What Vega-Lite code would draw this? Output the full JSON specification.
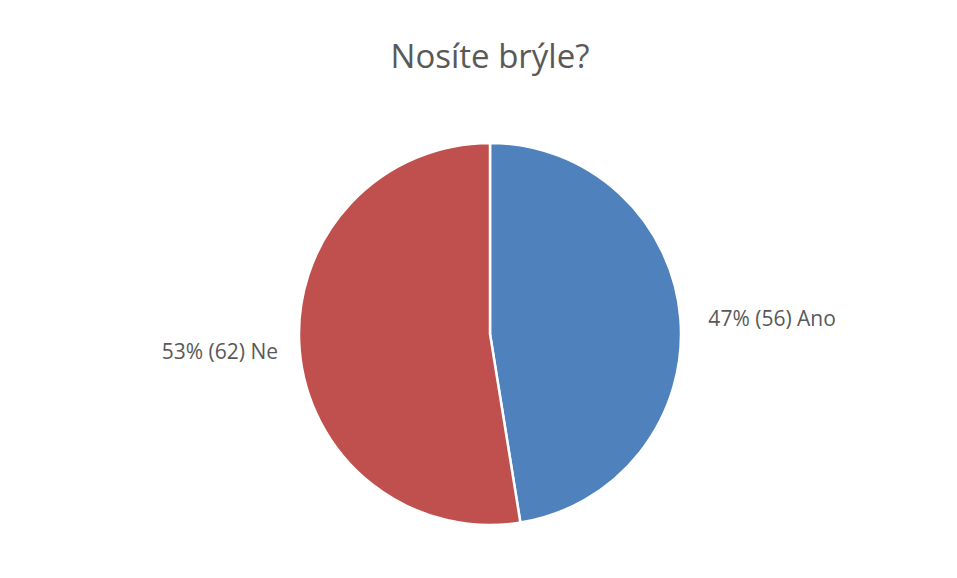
{
  "$schema": "https://vega.github.io/schema/vega-lite/v6.json",
  "autosize": "none",
  "width": 934,
  "height": 488,
  "padding": {"left": 23, "top": 90, "right": 0, "bottom": 0},
  "background": "white",
  "title": {
    "text": "Nosíte brýle?",
    "font": "Open Sans",
    "fontSize": 33,
    "fontWeight": "normal",
    "color": "#595959",
    "anchor": "middle",
    "offset": 15
  },
  "data": {
    "values": [
      {"answer": "Ano", "count": 56, "order": 1, "label": "47% (56) Ano"},
      {"answer": "Ne", "count": 62, "order": 2, "label": "53% (62) Ne"}
    ]
  },
  "encoding": {
    "theta": {"field": "count", "type": "quantitative", "stack": true},
    "order": {"field": "order", "type": "quantitative"}
  },
  "layer": [
    {
      "mark": {"type": "arc", "outerRadius": 191, "stroke": "white", "strokeWidth": 2.5},
      "encoding": {
        "color": {
          "field": "answer",
          "type": "nominal",
          "scale": {"domain": ["Ano", "Ne"], "range": ["#4F81BD", "#C0504D"]},
          "legend": null
        }
      }
    },
    {
      "mark": {"type": "text", "radius": 280, "dx": 3, "dy": 8, "font": "Open Sans", "fontSize": 21, "color": "#595959", "align": "center", "baseline": "middle"},
      "encoding": {
        "text": {"field": "label", "type": "nominal"},
        "opacity": {"condition": {"test": "datum.answer === 'Ano'", "value": 1}, "value": 0}
      }
    },
    {
      "mark": {"type": "text", "radius": 280, "dx": 9, "dy": -3, "font": "Open Sans", "fontSize": 21, "color": "#595959", "align": "center", "baseline": "middle"},
      "encoding": {
        "text": {"field": "label", "type": "nominal"},
        "opacity": {"condition": {"test": "datum.answer === 'Ne'", "value": 1}, "value": 0}
      }
    }
  ],
  "config": {"view": {"stroke": null}}
}
